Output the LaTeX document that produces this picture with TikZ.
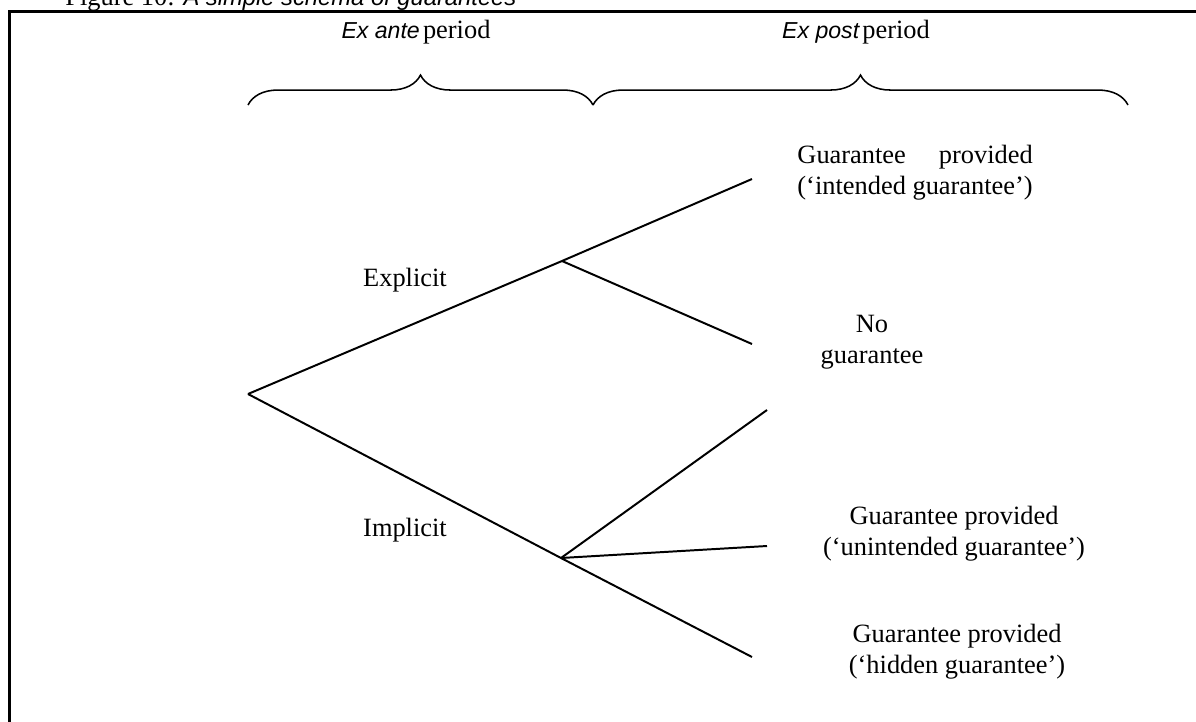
\documentclass[tikz,border=0pt]{standalone}
\usepackage{fontspec}
\setmainfont{Liberation Serif}
\newfontfamily\capsans{Liberation Sans}
\usepackage{calc}
\usetikzlibrary{decorations.pathreplacing}

\begin{document}
\begin{tikzpicture}[x=0.4545pt, y=-0.4545pt,
  txt/.style={font=\fontsize{12}{13.9}\selectfont, inner sep=0pt},
  branch/.style={line width=0.9pt},
  curly/.style={decorate, decoration={brace, amplitude=13.6pt}, line width=0.7pt},
  frameline/.style={line width=1.15pt}]
\useasboundingbox (0,0) rectangle (1196,721);
\clip (0,0) rectangle (1196,721);

% frame around the figure
\coordinate (fbl) at (9.7,740);
\coordinate (ftl) at (9.7,11.3);
\coordinate (ftr) at (1220,11.3);
\draw[frameline] (fbl) -- (ftl) -- (ftr);

% caption
\node[txt, anchor=base west] (caption) at (65,5)
  {Figure 10: {\capsans\itshape\fontsize{10.8}{12}\selectfont A simple schema of guarantees}};

% periods and their braces
\node[txt, anchor=base] (exante) at (416,38)
  {{\capsans\itshape\fontsize{10.5}{12}\selectfont Ex ante}\hspace{0.12em}period};
\node[txt, anchor=base] (expost) at (856,38)
  {{\capsans\itshape\fontsize{10.5}{12}\selectfont Ex post}\hspace{0.12em}period};
\coordinate (b0) at (248,105);
\coordinate (b1) at (593,105);
\coordinate (b2) at (1128,105);
\draw[curly] (b0) -- (b1);
\draw[curly] (b1) -- (b2);

% decision tree
\coordinate (root) at (248,394);
\coordinate (E) at (562,261);
\coordinate (I) at (561,558);
\coordinate (e1) at (752,179);
\coordinate (e2) at (752,344);
\coordinate (i1) at (767,410);
\coordinate (i2) at (767,546);
\coordinate (i3) at (752,657);
\draw[branch] (root) -- (E) -- (e1);
\draw[branch] (E) -- (e2);
\draw[branch] (root) -- (I) -- (i3);
\draw[branch] (I) -- (i1);
\draw[branch] (I) -- (i2);

% branch labels
\node[txt, anchor=base] (explicit) at (405,286) {Explicit};
\node[txt, anchor=base] (implicit) at (405,536) {Implicit};

% outcomes (base anchor = baseline of the last line)
\node[txt, anchor=base west, align=left] (intended) at (797,194)
  {\makebox[\widthof{(‘intended guarantee’)}][s]{Guarantee provided}\\(‘intended guarantee’)};
\node[txt, anchor=base, align=center] (noguar) at (872,363) {No\\guarantee};
\node[txt, anchor=base, align=center] (unintended) at (954,555)
  {Guarantee provided\\(‘unintended guarantee’)};
\node[txt, anchor=base, align=center] (hidden) at (957,673)
  {Guarantee provided\\(‘hidden guarantee’)};
\end{tikzpicture}
\end{document}
